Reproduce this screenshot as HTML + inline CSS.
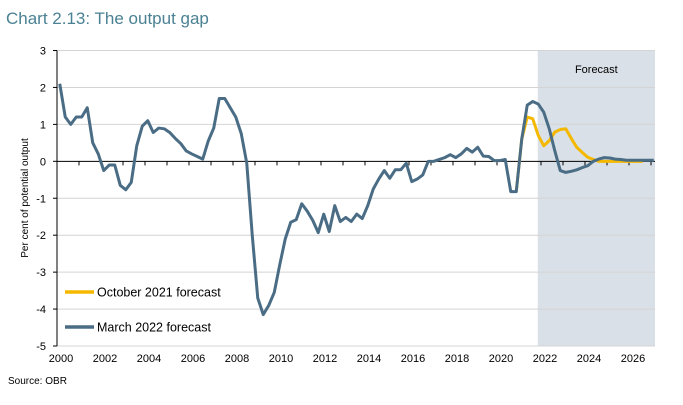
<!DOCTYPE html>
<html><head><meta charset="utf-8"><style>
body{margin:0;background:#fff;width:683px;height:400px;overflow:hidden;font-family:"Liberation Sans",sans-serif}
svg text{font-family:"Liberation Sans",sans-serif}
</style></head><body>
<svg id="c" width="683" height="400">
<text x="6" y="24" font-size="17" fill="#4a8193">Chart 2.13: The output gap</text>
<g id="plot"></g>
<text x="8" y="384" font-size="10" fill="#000">Source: OBR</text>
</svg>
<script>
const march = [2.1,1.2,1.0,1.2,1.2,1.45,0.5,0.2,-0.25,-0.1,-0.1,-0.65,-0.77,-0.57,0.42,0.95,1.1,0.78,0.9,0.88,0.78,0.62,0.48,0.28,0.2,0.13,0.06,0.55,0.9,1.7,1.7,1.45,1.2,0.75,-0.05,-2.0,-3.7,-4.15,-3.9,-3.55,-2.8,-2.1,-1.65,-1.58,-1.15,-1.35,-1.6,-1.93,-1.43,-1.9,-1.2,-1.63,-1.52,-1.63,-1.43,-1.55,-1.2,-0.75,-0.48,-0.25,-0.46,-0.23,-0.23,-0.05,-0.55,-0.48,-0.37,0,0,0.05,0.1,0.18,0.1,0.2,0.35,0.25,0.38,0.14,0.13,0.02,0.02,0.05,-0.82,-0.82,0.6,1.52,1.62,1.55,1.33,0.88,0.29,-0.25,-0.3,-0.27,-0.23,-0.17,-0.12,0,0.06,0.1,0.09,0.06,0.05,0.03,0.03,0.03,0.03,0.03,0.03];
const octStart = 83;
const october = [-0.82,0.6,1.2,1.15,0.7,0.42,0.56,0.79,0.86,0.88,0.62,0.38,0.24,0.11,0.05,0,0,0,0,0,0,0,0,0];
const yTicks = [3,2,1,0,-1,-2,-3,-4,-5];
const xLabels = [2000,2002,2004,2006,2008,2010,2012,2014,2016,2018,2020,2022,2024,2026];
const forecastStartYear = 2021.85;

const L=57,R=655,T=50.5,B=346;
const yS=v=>T+(3-v)*(B-T)/8;
const xYear=y=>L+(y-2000)*22;
const xQ=i=>L+5.5*(i+0.5);
const g=document.getElementById('plot');
const NS='http://www.w3.org/2000/svg';
function mk(t,a){const e=document.createElementNS(NS,t);for(const k in a)e.setAttribute(k,a[k]);g.appendChild(e);return e;}
let r=mk('rect',{x:xYear(forecastStartYear),y:T,width:R-xYear(forecastStartYear),height:B-T,fill:'#d9e0e7'});


let ft=mk('text',{x:(xYear(forecastStartYear)+R)/2,y:73,'font-size':11,'text-anchor':'middle',fill:'#000'});ft.textContent='Forecast';


yTicks.forEach(v=>{
 if(v!==0){let l=mk('line',{x1:L,x2:R,y1:yS(v),y2:yS(v),stroke:'#d4d4d4','stroke-width':1});
 
 }
 let t=mk('text',{x:46,y:yS(v)+4,'font-size':11,'text-anchor':'end',fill:'#000'});t.textContent=v;
 
 
 mk('line',{x1:L-4,x2:L,y1:yS(v),y2:yS(v),stroke:'#000'});
});
mk('line',{x1:L,x2:L,y1:T,y2:B,stroke:'#000'});
let z=mk('line',{x1:L,x2:R,y1:yS(0),y2:yS(0),stroke:'#000'});


for(let k=1;k<=27;k++)mk('line',{x1:xYear(2000+k),x2:xYear(2000+k),y1:yS(0),y2:yS(0)+4,stroke:'#000'});
xLabels.forEach(y=>{let t=mk('text',{x:xYear(y)+4,y:362,'font-size':11,'text-anchor':'middle',fill:'#000'});t.textContent=y;
 
 });
let yt=mk('text',{transform:'translate(28,198) rotate(-90)','font-size':10,'text-anchor':'middle',fill:'#000'});yt.textContent='Per cent of potential output';


let po=mk('polyline',{points:october.map((v,i)=>xQ(octStart+i)+','+yS(v)).join(' '),fill:'none',stroke:'#f5b800','stroke-width':3,'stroke-linejoin':'round'});


let pm=mk('polyline',{points:march.map((v,i)=>xQ(i)+','+yS(v)).join(' '),fill:'none',stroke:'#4a6d85','stroke-width':3,'stroke-linejoin':'round'});


[['October 2021 forecast','#f5b800',292,'legend-october'],['March 2022 forecast','#4a6d85',327,'legend-march']].forEach(([s,c,y,n])=>{
 let l=mk('line',{x1:65,x2:94,y1:y,y2:y,stroke:c,'stroke-width':3.5});
 
 
 let t=mk('text',{x:97,y:y+4.5,'font-size':12.5,fill:'#000'});t.textContent=s;
 
 
});
</script>
</body></html>
